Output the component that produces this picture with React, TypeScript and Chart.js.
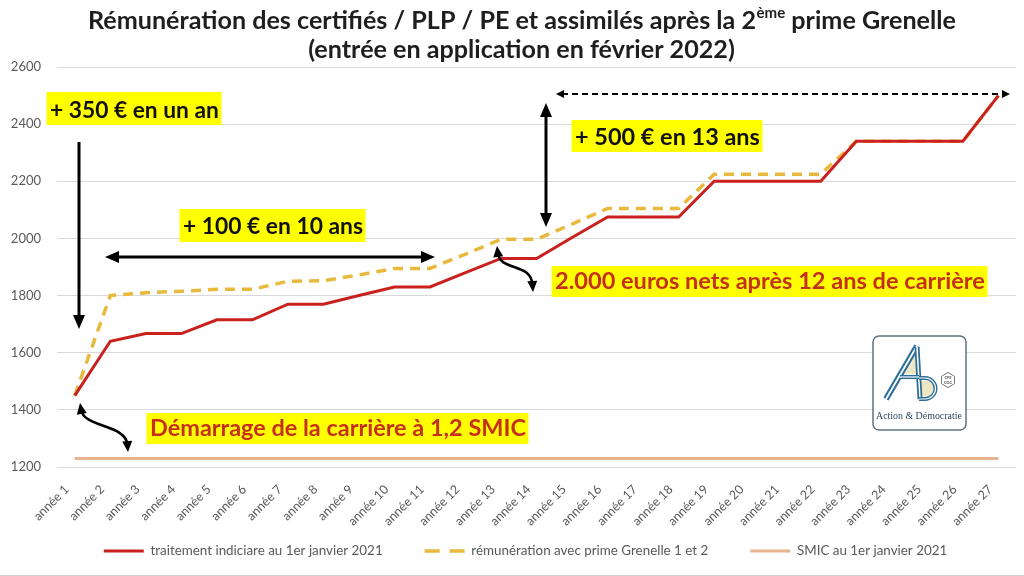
import React, { useEffect, useRef } from "react";
import { Chart, registerables } from "chart.js";

Chart.register(...registerables);

// ---------- data ----------
const yearLabels = [
  "année 1", "année 2", "année 3", "année 4", "année 5", "année 6", "année 7", "année 8", "année 9",
  "année 10", "année 11", "année 12", "année 13", "année 14", "année 15", "année 16", "année 17", "année 18",
  "année 19", "année 20", "année 21", "année 22", "année 23", "année 24", "année 25", "année 26", "année 27",
];

const traitementIndiciaire = [
  1450, 1640, 1667, 1667, 1715, 1715, 1770, 1770, 1800, 1830, 1830, 1880, 1930, 1930,
  2003, 2075, 2075, 2075, 2200, 2200, 2200, 2200, 2340, 2340, 2340, 2340, 2500,
];

const remunerationGrenelle = [
  1450, 1800, 1810, 1815, 1822, 1822, 1850, 1852, 1872, 1895, 1895, 1945, 1997, 1997,
  2050, 2105, 2105, 2105, 2225, 2225, 2225, 2225, 2340, 2340, 2340, 2340, 2500,
];

const smic2021 = [
  1230, 1230, 1230, 1230, 1230, 1230, 1230, 1230, 1230, 1230, 1230, 1230, 1230, 1230,
  1230, 1230, 1230, 1230, 1230, 1230, 1230, 1230, 1230, 1230, 1230, 1230, 1230,
];

const seriesNames = [
  "traitement indiciare au 1er janvier 2021",
  "rémunération avec prime Grenelle 1 et 2",
  "SMIC au 1er janvier 2021",
];

const yMin = 1200;
const yMax = 2600;
const yStep = 200;

const titleLine1a = "Rémunération des certifiés / PLP / PE et assimilés après la 2";
const titleSup = "ème";
const titleLine1b = " prime Grenelle";
const titleLine2 = "(entrée en application en février 2022)";

// ---------- styles ----------
const FONT = "Lato, 'Liberation Sans', sans-serif";
const RED = "#c9211e";
const GOLD = "#e8b93c";
const PEACH = "#e6b491";
const AXIS_TEXT = "#595959";
const HILITE = "#ffff00";
const ANNOT_RED = "#c4301c";

const LEGEND_FONT = 13.4;
const LEGEND_GAP = 42;

type Box = { text: string; x: number; w: number; base: number; top: number; bottom: number; color: string };

const boxes: Box[] = [
  { text: "+ 350 € en un an", x: 50, w: 169, base: 117.5, top: 92, bottom: 125, color: "#111" },
  { text: "+ 100 € en 10 ans", x: 183, w: 180, base: 234, top: 209, bottom: 242, color: "#111" },
  { text: "+ 500 € en 13 ans", x: 575, w: 185, base: 145, top: 120, bottom: 152, color: "#111" },
  { text: "2.000 euros nets après 12 ans de carrière", x: 555, w: 430, base: 289, top: 266, bottom: 297, color: ANNOT_RED },
  { text: "Démarrage de la carrière à 1,2 SMIC", x: 150, w: 376, base: 436, top: 413, bottom: 444, color: ANNOT_RED },
];

function fitSize(ctx: CanvasRenderingContext2D, text: string, weight: string, family: string, target: number) {
  ctx.font = `${weight} 20px ${family}`;
  const w = ctx.measureText(text).width;
  return (20 * target) / w;
}

function head(ctx: CanvasRenderingContext2D, x: number, y: number, ang: number, len: number, wid: number) {
  const c = Math.cos(ang), s = Math.sin(ang);
  ctx.beginPath();
  ctx.moveTo(x, y);
  ctx.lineTo(x - len * c + (wid / 2) * s, y - len * s - (wid / 2) * c);
  ctx.lineTo(x - len * c - (wid / 2) * s, y - len * s + (wid / 2) * c);
  ctx.closePath();
  ctx.fill();
}

function straightArrow(
  ctx: CanvasRenderingContext2D, x0: number, y0: number, x1: number, y1: number,
  both: boolean, lw: number, len: number, wid: number,
) {
  const ang = Math.atan2(y1 - y0, x1 - x0);
  const c = Math.cos(ang), s = Math.sin(ang);
  ctx.lineWidth = lw;
  ctx.beginPath();
  ctx.moveTo(both ? x0 + c * len * 0.8 : x0, both ? y0 + s * len * 0.8 : y0);
  ctx.lineTo(x1 - c * len * 0.8, y1 - s * len * 0.8);
  ctx.stroke();
  head(ctx, x1, y1, ang, len, wid);
  if (both) head(ctx, x0, y0, ang + Math.PI, len, wid);
}

function curlyArrow(ctx: CanvasRenderingContext2D, p: number[][]) {
  const [p0, p1, p2, p3] = p;
  ctx.lineWidth = 2.6;
  ctx.beginPath();
  const a0 = Math.atan2(p0[1] - p1[1], p0[0] - p1[0]);
  const a1 = Math.atan2(p3[1] - p2[1], p3[0] - p2[0]);
  ctx.moveTo(p0[0] - Math.cos(a0) * 7, p0[1] - Math.sin(a0) * 7);
  ctx.bezierCurveTo(p1[0], p1[1], p2[0], p2[1], p3[0] - Math.cos(a1) * 7, p3[1] - Math.sin(a1) * 7);
  ctx.stroke();
  head(ctx, p0[0], p0[1], a0, 11, 10);
  head(ctx, p3[0], p3[1], a1, 11, 10);
}

function drawLogo(ctx: CanvasRenderingContext2D) {
  const x0 = 873, y0 = 336, x1 = 966, y1 = 430;
  ctx.save();
  ctx.beginPath();
  ctx.roundRect(x0, y0, x1 - x0, y1 - y0, 6);
  ctx.fillStyle = "#ffffff";
  ctx.fill();
  ctx.lineWidth = 1.5;
  ctx.strokeStyle = "#5f7383";
  ctx.stroke();

  const blue = "#2c6d99";
  ctx.lineCap = "butt";
  ctx.fillStyle = "#efe6c4";
  ctx.beginPath();
  ctx.moveTo(917, 352); ctx.lineTo(905, 374); ctx.lineTo(918, 374); ctx.closePath(); ctx.fill();
  ctx.beginPath();
  ctx.moveTo(920, 381); ctx.lineTo(926, 381); ctx.arc(926, 388.5, 7.5, -Math.PI / 2, Math.PI / 2); ctx.lineTo(920, 396); ctx.closePath(); ctx.fill();
  const strokeTwice = (fn: () => void, w: number) => {
    ctx.strokeStyle = blue; ctx.lineWidth = w; ctx.beginPath(); fn(); ctx.stroke();
    ctx.strokeStyle = "#ffffff"; ctx.lineWidth = w * 0.3; ctx.beginPath(); fn(); ctx.stroke();
  };
  strokeTwice(() => { ctx.moveTo(886, 399); ctx.lineTo(917, 346); }, 6);
  strokeTwice(() => { ctx.moveTo(917, 347); ctx.lineTo(920, 399); }, 5);
  strokeTwice(() => { ctx.moveTo(900, 377); ctx.lineTo(919, 377); }, 4);
  strokeTwice(() => {
    ctx.moveTo(919, 378); ctx.lineTo(925, 378);
    ctx.arc(925, 388.5, 10.5, -Math.PI / 2, Math.PI / 2);
    ctx.lineTo(919, 399);
  }, 4);

  ctx.strokeStyle = "#777"; ctx.lineWidth = 1;
  ctx.beginPath();
  for (let k = 0; k < 6; k++) {
    const a = (Math.PI / 3) * k + Math.PI / 6;
    const px = 948 + 7.5 * Math.cos(a), py = 380 + 7.5 * Math.sin(a);
    if (k === 0) ctx.moveTo(px, py); else ctx.lineTo(px, py);
  }
  ctx.closePath(); ctx.stroke();
  ctx.fillStyle = "#555";
  ctx.font = `bold 4px ${FONT}`;
  ctx.textAlign = "center";
  ctx.fillText("CFE", 948, 379);
  ctx.fillText("CGC", 948, 384);

  ctx.fillStyle = "#2f4a60";
  const nameSize = fitSize(ctx, "Action & Démocratie", "normal", "'Liberation Serif', serif", 86);
  ctx.font = `normal ${nameSize}px 'Liberation Serif', serif`;
  ctx.textAlign = "left";
  ctx.fillText("Action & Démocratie", 876, 419);
  ctx.restore();
}

const annotationPlugin = {
  id: "annotations",
  afterLayout(chart: any) {
    // legend row placed as in the reference (text centres at y = 551, row centred at x ≈ 525)
    const lg = chart.legend;
    if (lg) {
      const h = lg.bottom - lg.top;
      lg.top = 551 - LEGEND_GAP - LEGEND_FONT / 2;
      lg.bottom = lg.top + h;
      lg.left += 13.5;
      lg.right += 13.5;
    }
  },
  afterDraw(chart: any) {
    const ctx: CanvasRenderingContext2D = chart.ctx;
    ctx.save();

    // title
    const tfam = FONT;
    ctx.font = `bold 20px ${tfam}`;
    const wa = ctx.measureText(titleLine1a).width;
    const wb = ctx.measureText(titleLine1b).width;
    ctx.font = `bold 12px ${tfam}`;
    const ws = ctx.measureText(titleSup).width;
    const scale = 868 / (wa + wb + ws);
    const ts = 20 * scale;
    const tsSup = 12 * scale;
    let tx = 522 - 434;
    ctx.fillStyle = "#1e1e1e";
    ctx.textAlign = "left";
    ctx.textBaseline = "alphabetic";
    ctx.font = `bold ${ts}px ${tfam}`;
    ctx.fillText(titleLine1a, tx, 29);
    tx += wa * scale;
    ctx.font = `bold ${tsSup}px ${tfam}`;
    ctx.fillText(titleSup, tx, 29 - ts * 0.42);
    tx += ws * scale;
    ctx.font = `bold ${ts}px ${tfam}`;
    ctx.fillText(titleLine1b, tx, 29);
    const s2 = fitSize(ctx, titleLine2, "bold", tfam, 427);
    ctx.font = `bold ${s2}px ${tfam}`;
    ctx.textAlign = "center";
    ctx.fillText(titleLine2, 521.5, 58);

    // highlighted labels
    ctx.textAlign = "left";
    boxes.forEach((b) => {
      const size = fitSize(ctx, b.text, "bold", FONT, b.w);
      ctx.fillStyle = HILITE;
      ctx.fillRect(b.x - 3.5, b.top, b.w + 6, b.bottom - b.top);
      ctx.font = `bold ${size}px ${FONT}`;
      ctx.fillStyle = b.color;
      ctx.fillText(b.text, b.x, b.base);
    });

    // arrows
    ctx.fillStyle = "#000";
    ctx.strokeStyle = "#000";
    straightArrow(ctx, 79, 142, 79, 329, false, 3, 14, 12);
    straightArrow(ctx, 105, 257, 435, 257, true, 3, 14, 12);
    straightArrow(ctx, 546, 103, 546, 227, true, 3, 14, 12);

    ctx.save();
    ctx.setLineDash([6, 4]);
    ctx.lineWidth = 2;
    ctx.beginPath();
    ctx.moveTo(562, 94);
    ctx.lineTo(1004, 94);
    ctx.stroke();
    ctx.restore();
    head(ctx, 556, 94, Math.PI, 8, 8);
    head(ctx, 1010, 94, 0, 8, 8);

    curlyArrow(ctx, [[497, 246], [500, 272], [531, 262], [533, 292]]);
    curlyArrow(ctx, [[80, 403], [84, 428], [126, 424], [128, 452]]);

    drawLogo(ctx);

    ctx.strokeStyle = "#d0d0d0";
    ctx.lineWidth = 1;
    ctx.beginPath();
    ctx.moveTo(0, 575.5);
    ctx.lineTo(1024, 575.5);
    ctx.stroke();

    ctx.restore();
  },
};

export default function App() {
  const ref = useRef<HTMLCanvasElement>(null);

  useEffect(() => {
    const canvas = ref.current;
    if (!canvas) return;
    const legendHeight = LEGEND_FONT + LEGEND_GAP + 10;
    const xAxisHeight = 62;
    const chart = new Chart(canvas, {
      type: "line",
      data: {
        labels: yearLabels,
        datasets: [
          {
            label: seriesNames[0],
            data: traitementIndiciaire,
            borderColor: RED,
            backgroundColor: RED,
            borderWidth: 3,
            pointRadius: 0,
            tension: 0,
          },
          {
            label: seriesNames[1],
            data: remunerationGrenelle,
            borderColor: GOLD,
            backgroundColor: GOLD,
            borderWidth: 3.5,
            borderDash: [10, 7],
            pointRadius: 0,
            tension: 0,
          },
          {
            label: seriesNames[2],
            data: smic2021,
            borderColor: PEACH,
            backgroundColor: PEACH,
            borderWidth: 3,
            pointRadius: 0,
            tension: 0,
          },
        ],
      },
      options: {
        responsive: false,
        animation: false,
        layout: { padding: { top: 67, left: 0, right: 0, bottom: 576 - 467 - xAxisHeight - legendHeight } },
        scales: {
          x: {
            type: "category",
            offset: true,
            grid: { display: false, drawTicks: false },
            border: { display: false },
            ticks: {
              autoSkip: false,
              maxRotation: 45,
              minRotation: 45,
              padding: 15,
              labelOffset: -8,
              color: AXIS_TEXT,
              font: { family: FONT, size: 12.5 },
            },
            afterFit: (s: any) => {
              s.height = xAxisHeight;
            },
          },
          y: {
            min: yMin,
            max: yMax,
            ticks: {
              stepSize: yStep,
              padding: 16,
              color: AXIS_TEXT,
              font: { family: FONT, size: 13 },
              callback: (v: any) => String(v),
            },
            grid: { color: "#d9d9d9", drawTicks: false },
            border: { display: false },
            afterFit: (s: any) => {
              s.width = 57;
            },
          },
        },
        plugins: {
          legend: {
            position: "bottom",
            labels: {
              boxWidth: 40,
              boxHeight: 0,
              padding: LEGEND_GAP,
              color: AXIS_TEXT,
              font: { family: FONT, size: LEGEND_FONT },
              generateLabels: (c: any) => {
                const items = (Chart.defaults as any).plugins.legend.labels.generateLabels(c);
                items.forEach((it: any, i: number) => {
                  it.lineCap = "butt";
                  if (i === 1) {
                    // two dashes "— —" in the 40 px sample
                    it.lineDash = [30, 10];
                    it.lineDashOffset = 15;
                  } else {
                    it.lineDash = [];
                    it.lineDashOffset = 0;
                  }
                });
                return items;
              },
            },
          },
          tooltip: { enabled: false },
          title: { display: false },
        },
      },
      plugins: [annotationPlugin],
    });
    return () => chart.destroy();
  }, []);

  return (
    <div style={{ position: "fixed", left: 0, top: 0, width: 1024, height: 576, background: "#ffffff" }}>
      <canvas ref={ref} width={1024} height={576} style={{ display: "block", width: 1024, height: 576 }} />
    </div>
  );
}
